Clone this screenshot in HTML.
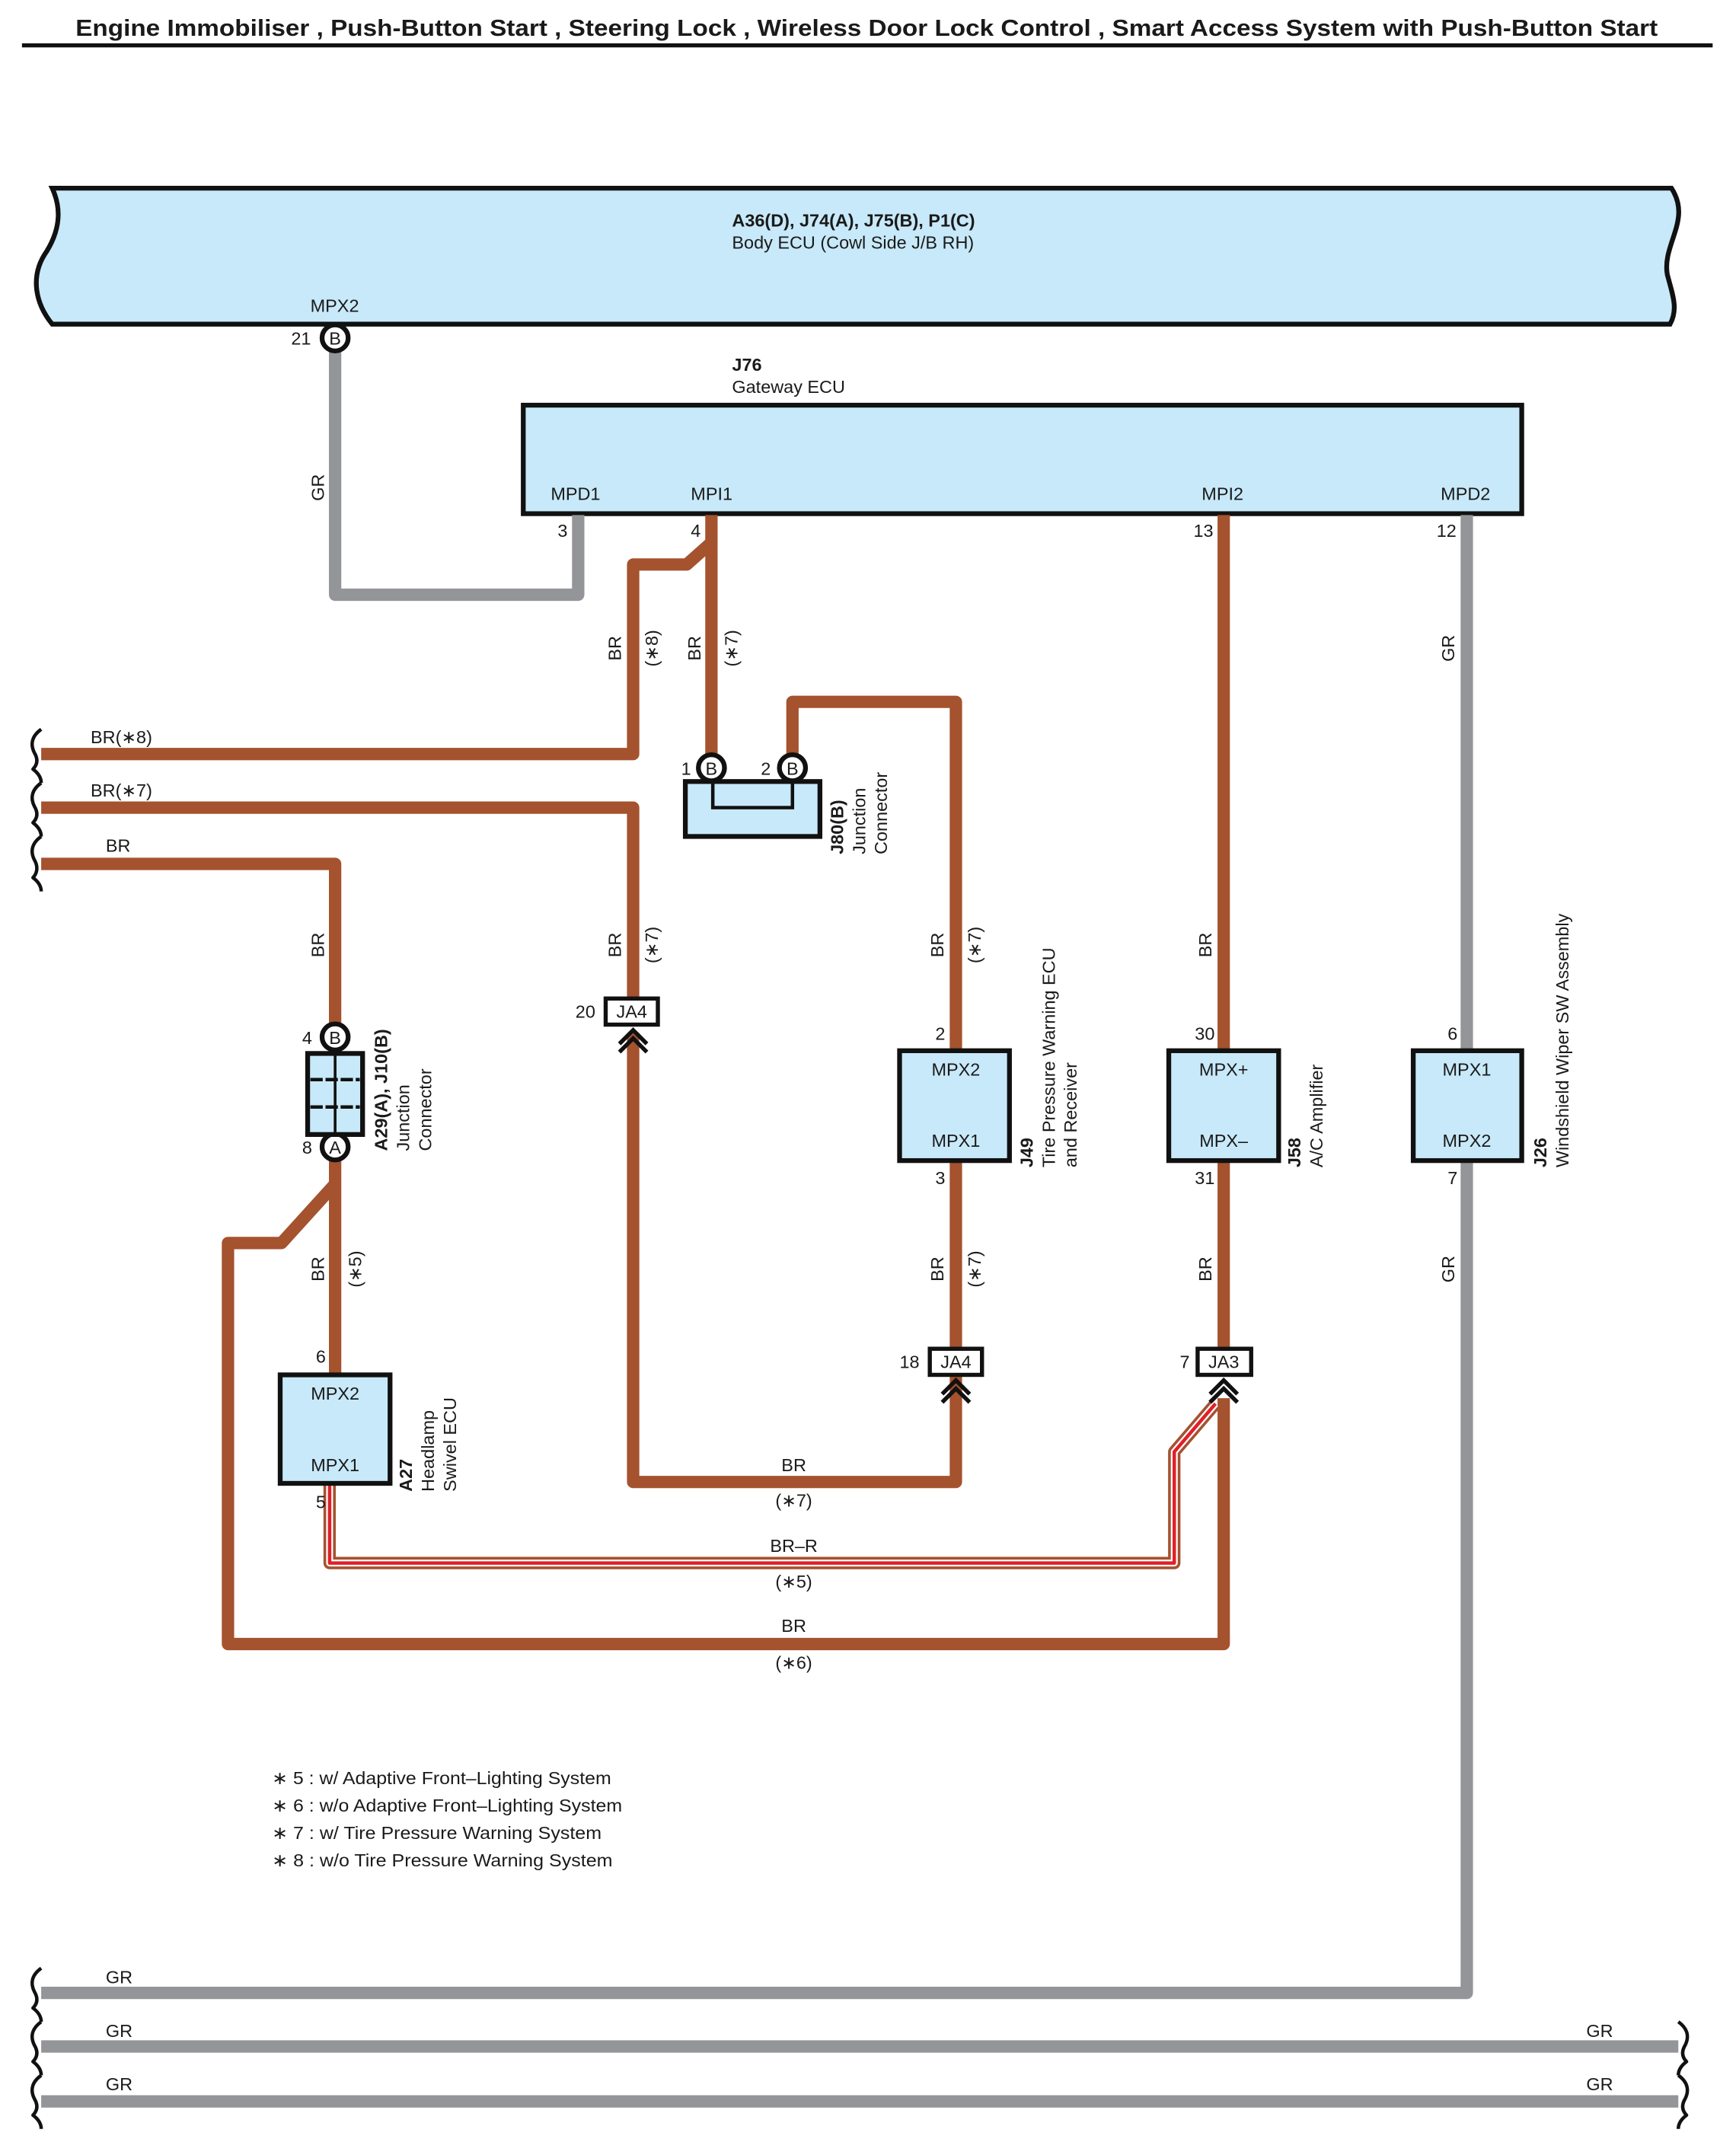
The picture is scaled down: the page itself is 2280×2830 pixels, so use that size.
<!DOCTYPE html>
<html><head><meta charset="utf-8"><style>html,body{margin:0;padding:0;background:#fff}svg{display:block}</style></head>
<body>
<svg width="2280" height="2830" viewBox="0 0 1264 1569" preserveAspectRatio="none" xmlns="http://www.w3.org/2000/svg" font-family="Liberation Sans, sans-serif" font-size="13" fill="#1a1a1a">
<defs>
<g id="chev"><path d="M-10,14 L0,4 L10,14 M-10,20 L0,10 L10,20" fill="none" stroke="#111" stroke-width="3"/></g>
</defs>
<text x="55" y="26" textLength="1152" lengthAdjust="spacingAndGlyphs" font-weight="bold" font-size="17">Engine Immobiliser , Push-Button Start , Steering Lock , Wireless Door Lock Control , Smart Access System with Push-Button Start</text>
<line x1="16" y1="33" x2="1247" y2="33" stroke="#111" stroke-width="3"/>

<!-- Body ECU -->
<path d="M38,137 L1217,137 C1232,160 1210,178 1214,200 C1218,215 1222,225 1216,236 L38,236 C25,220 22,200 34,183 C45,165 44,150 38,137 Z" fill="#c8e9f9" stroke="#111" stroke-width="3.5"/>
<text x="533" y="165" font-weight="bold">A36(D), J74(A), J75(B), P1(C)</text>
<text x="533" y="181">Body ECU (Cowl Side J/B RH)</text>
<text x="226" y="227">MPX2</text>

<!-- Gateway ECU -->
<text x="533" y="270" font-weight="bold">J76</text>
<text x="533" y="286">Gateway ECU</text>
<rect x="381" y="295" width="727" height="79" fill="#c8e9f9" stroke="#111" stroke-width="3.5"/>
<text x="401" y="364">MPD1</text><text x="503" y="364">MPI1</text><text x="875" y="364">MPI2</text><text x="1049" y="364">MPD2</text>
<text x="406" y="391">3</text><text x="503" y="391">4</text><text x="869" y="391">13</text><text x="1046" y="391">12</text>

<g fill="none" stroke-linejoin="round" stroke-linecap="butt">
<path d="M244,255 V433 H421 V375" stroke="#939598" stroke-width="9"/>
<path d="M1068,375 V765" stroke="#939598" stroke-width="9"/>
<path d="M1068,845 V1451 H30" stroke="#939598" stroke-width="9"/>
<path d="M30,1490 H1222 M30,1530 H1222" stroke="#939598" stroke-width="9"/>
<g stroke="#a5522f" stroke-width="9">
<path d="M518,375 V550"/>
<path d="M518,395 L500,411 H461 V549 H30"/>
<path d="M30,588 H461 V727"/>
<path d="M461,752 V1079 H696 V1000"/>
<path d="M577,550 V511 H696 V765"/>
<path d="M696,845 V982"/>
<path d="M30,629 H244 V746"/>
<path d="M244,844 V1001"/>
<path d="M244,862 L205,905 H166 V1197 H891 V1018"/>
<path d="M891,375 V765"/>
<path d="M891,845 V982"/>
<path d="M240,1080 V1138 H855 V1057 L885,1022"/>
</g>
<path d="M240,1080 V1138 H855 V1057 L885,1022" stroke="#fff" stroke-width="5"/>
<path d="M240,1080 V1138 H855 V1057 L885,1022" stroke="#e0202a" stroke-width="2.5"/>
<g stroke="#111" stroke-width="2.5">
<path d="M30,531 C23,536 22,542 25,548 C28,553 27,557 24,560 C28,563 30,566 30,570"/>
<path d="M30,570 C23,575 22,581 25,587 C28,592 27,596 24,599 C28,602 30,605 30,609"/>
<path d="M30,609 C23,614 22,620 25,626 C28,631 27,636 24,639 C28,642 30,645 30,649"/>
<path d="M30,1433 C23,1438 22,1444 25,1450 C28,1455 27,1459 24,1462 C28,1465 30,1468 30,1472"/>
<path d="M30,1472 C23,1477 22,1483 25,1489 C28,1494 27,1498 24,1501 C28,1504 30,1507 30,1511"/>
<path d="M30,1511 C23,1516 22,1522 25,1528 C28,1533 27,1537 24,1540 C28,1543 30,1546 30,1550"/>
<path d="M1222,1472 C1229,1477 1230,1483 1227,1489 C1224,1494 1225,1498 1228,1501 C1224,1504 1222,1507 1222,1511"/>
<path d="M1222,1511 C1229,1516 1230,1522 1227,1528 C1224,1533 1225,1537 1228,1540 C1224,1543 1222,1546 1222,1550"/>
</g>
</g>

<g stroke="#111" stroke-width="3.5" fill="#fff">
<circle cx="244" cy="246" r="9.5"/><circle cx="518" cy="559" r="9.5"/><circle cx="577" cy="559" r="9.5"/>
<circle cx="244" cy="755" r="9.5"/><circle cx="244" cy="835" r="9.5"/>
</g>
<g text-anchor="middle" font-size="13">
<text x="244" y="251">B</text><text x="518" y="564">B</text><text x="577" y="564">B</text>
<text x="244" y="760">B</text><text x="244" y="840">A</text>
</g>
<text x="212" y="251">21</text><text x="496" y="564">1</text><text x="554" y="564">2</text>
<text x="220" y="760">4</text><text x="220" y="840">8</text>

<rect x="499" y="569" width="98" height="40" fill="#c8e9f9" stroke="#111" stroke-width="3.5"/>
<rect x="519" y="569" width="58" height="19" fill="none" stroke="#111" stroke-width="2.5"/>
<g transform="rotate(-90 614 622)"><text x="614" y="622" font-weight="bold">J80(B)</text></g>
<g transform="rotate(-90 630 622)"><text x="630" y="622">Junction</text></g>
<g transform="rotate(-90 646 622)"><text x="646" y="622">Connector</text></g>

<rect x="224" y="767" width="40" height="59" fill="#c8e9f9" stroke="#111" stroke-width="3.5"/>
<path d="M244,767 V826" stroke="#111" stroke-width="2"/>
<path d="M226,786 H262 M226,806 H262" stroke="#111" stroke-width="2.5" stroke-dasharray="9,2"/>
<g transform="rotate(-90 282 838)"><text x="282" y="838" font-weight="bold">A29(A), J10(B)</text></g>
<g transform="rotate(-90 298 838)"><text x="298" y="838">Junction</text></g>
<g transform="rotate(-90 314 838)"><text x="314" y="838">Connector</text></g>

<g fill="#fff" stroke="#111" stroke-width="3">
<rect x="441" y="727" width="38" height="19"/><rect x="677" y="982" width="38" height="19"/><rect x="872" y="982" width="39" height="19"/>
</g>
<text x="460" y="741" text-anchor="middle">JA4</text><text x="696" y="996" text-anchor="middle">JA4</text><text x="891" y="996" text-anchor="middle">JA3</text>
<text x="419" y="741">20</text><text x="655" y="996">18</text><text x="859" y="996">7</text>
<use href="#chev" x="461" y="746"/><use href="#chev" x="696" y="1001"/><use href="#chev" x="891" y="1001"/>

<g fill="#c8e9f9" stroke="#111" stroke-width="3.5">
<rect x="655" y="765" width="80" height="80"/><rect x="851" y="765" width="80" height="80"/><rect x="1029" y="765" width="79" height="80"/><rect x="204" y="1001" width="80" height="79"/>
</g>
<g text-anchor="middle">
<text x="696" y="783">MPX2</text><text x="696" y="835">MPX1</text>
<text x="891" y="783">MPX+</text><text x="891" y="835">MPX–</text>
<text x="1068" y="783">MPX1</text><text x="1068" y="835">MPX2</text>
<text x="244" y="1019">MPX2</text><text x="244" y="1071">MPX1</text>
</g>
<text x="681" y="757">2</text><text x="681" y="862">3</text>
<text x="870" y="757">30</text><text x="870" y="862">31</text>
<text x="1054" y="757">6</text><text x="1054" y="862">7</text>
<text x="230" y="992">6</text><text x="230" y="1098">5</text>

<g transform="rotate(-90 752 850)"><text x="752" y="850" font-weight="bold">J49</text></g>
<g transform="rotate(-90 768 850)"><text x="768" y="850">Tire Pressure Warning ECU</text></g>
<g transform="rotate(-90 784 850)"><text x="784" y="850">and Receiver</text></g>
<g transform="rotate(-90 947 850)"><text x="947" y="850" font-weight="bold">J58</text></g>
<g transform="rotate(-90 963 850)"><text x="963" y="850">A/C Amplifier</text></g>
<g transform="rotate(-90 1126 850)"><text x="1126" y="850" font-weight="bold">J26</text></g>
<g transform="rotate(-90 1142 850)"><text x="1142" y="850">Windshield Wiper SW Assembly</text></g>
<g transform="rotate(-90 300 1086)"><text x="300" y="1086" font-weight="bold">A27</text></g>
<g transform="rotate(-90 316 1086)"><text x="316" y="1086">Headlamp</text></g>
<g transform="rotate(-90 332 1086)"><text x="332" y="1086">Swivel ECU</text></g>

<g text-anchor="middle">
<g transform="rotate(-90 236 355)"><text x="236" y="355">GR</text></g>
<g transform="rotate(-90 452 472)"><text x="452" y="472">BR</text></g>
<g transform="rotate(-90 479 472)"><text x="479" y="472">(∗8)</text></g>
<g transform="rotate(-90 510 472)"><text x="510" y="472">BR</text></g>
<g transform="rotate(-90 537 472)"><text x="537" y="472">(∗7)</text></g>
<g transform="rotate(-90 1059 472)"><text x="1059" y="472">GR</text></g>
<g transform="rotate(-90 236 688)"><text x="236" y="688">BR</text></g>
<g transform="rotate(-90 452 688)"><text x="452" y="688">BR</text></g>
<g transform="rotate(-90 479 688)"><text x="479" y="688">(∗7)</text></g>
<g transform="rotate(-90 687 688)"><text x="687" y="688">BR</text></g>
<g transform="rotate(-90 714 688)"><text x="714" y="688">(∗7)</text></g>
<g transform="rotate(-90 882 688)"><text x="882" y="688">BR</text></g>
<g transform="rotate(-90 236 924)"><text x="236" y="924">BR</text></g>
<g transform="rotate(-90 263 924)"><text x="263" y="924">(∗5)</text></g>
<g transform="rotate(-90 687 924)"><text x="687" y="924">BR</text></g>
<g transform="rotate(-90 714 924)"><text x="714" y="924">(∗7)</text></g>
<g transform="rotate(-90 882 924)"><text x="882" y="924">BR</text></g>
<g transform="rotate(-90 1059 924)"><text x="1059" y="924">GR</text></g>
<text x="578" y="1071">BR</text><text x="578" y="1097">(∗7)</text>
<text x="578" y="1130">BR–R</text><text x="578" y="1156">(∗5)</text>
<text x="578" y="1188">BR</text><text x="578" y="1215">(∗6)</text>
</g>
<text x="66" y="541">BR(∗8)</text><text x="66" y="580">BR(∗7)</text><text x="77" y="620">BR</text>
<text x="77" y="1444">GR</text><text x="77" y="1483">GR</text><text x="77" y="1522">GR</text>
<text x="1155" y="1483">GR</text><text x="1155" y="1522">GR</text>

<text x="198" y="1299" textLength="247" lengthAdjust="spacingAndGlyphs">∗ 5 : w/ Adaptive Front–Lighting System</text>
<text x="198" y="1319" textLength="255" lengthAdjust="spacingAndGlyphs">∗ 6 : w/o Adaptive Front–Lighting System</text>
<text x="198" y="1339" textLength="240" lengthAdjust="spacingAndGlyphs">∗ 7 : w/ Tire Pressure Warning System</text>
<text x="198" y="1359" textLength="248" lengthAdjust="spacingAndGlyphs">∗ 8 : w/o Tire Pressure Warning System</text>
</svg>
</body></html>
